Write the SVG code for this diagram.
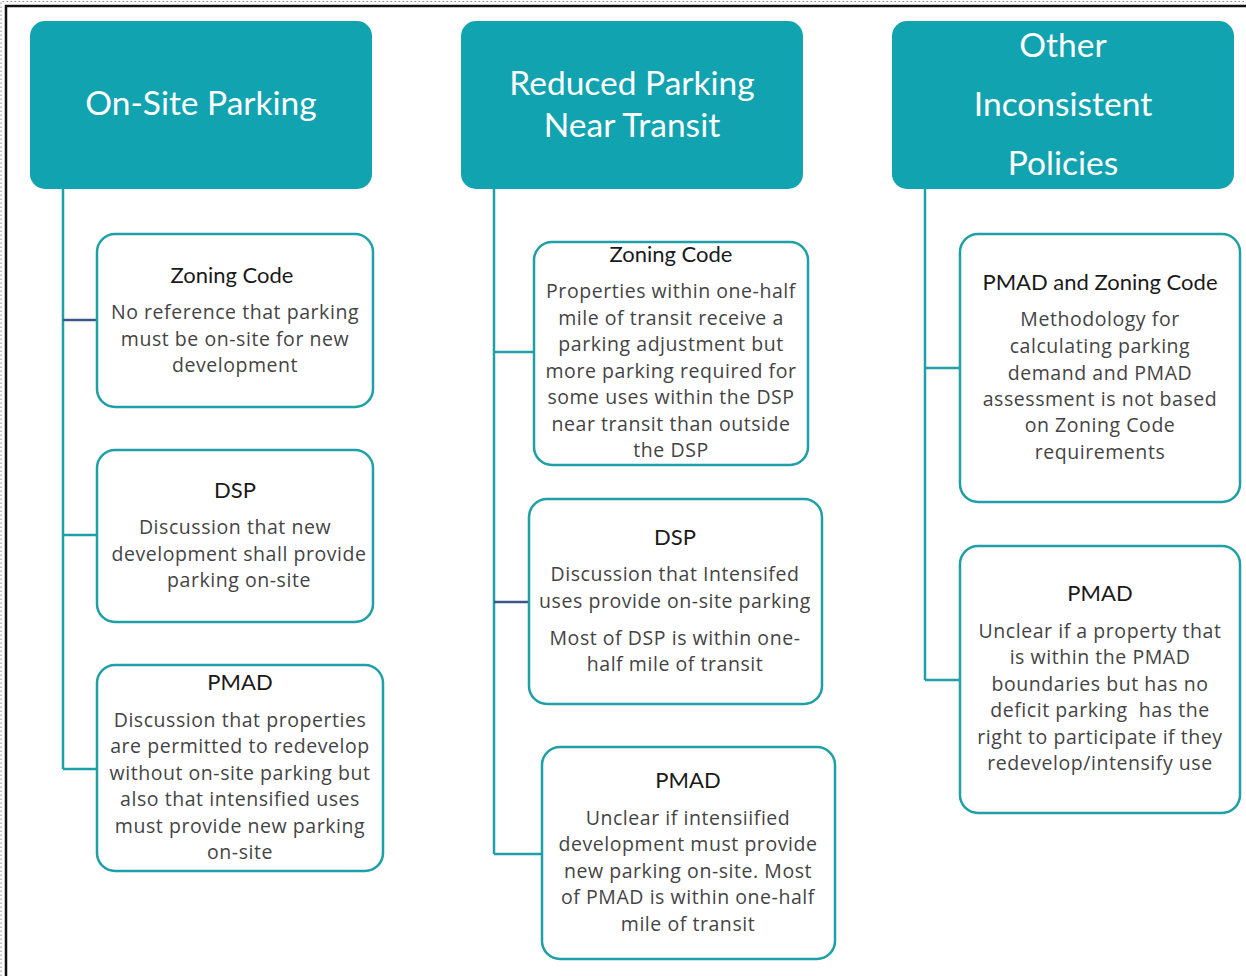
<svg xmlns="http://www.w3.org/2000/svg" width="1246" height="976" viewBox="0 0 1246 976">
<style>
.hdr{fill:#12a3b0}
.ht{font-family:Lato,"Open Sans",sans-serif;font-size:33.5px;fill:#ffffff;text-anchor:middle}
.box{fill:#ffffff;stroke:#1fa0a6;stroke-width:2.5}
.tt{font-family:Lato,"Open Sans",sans-serif;font-size:22px;fill:#1a1a1a;text-anchor:middle}
.bt{font-family:"Open Sans","Noto Sans",sans-serif;font-size:19.5px;letter-spacing:0.55px;fill:#444444;text-anchor:middle}
.ln{stroke:#1fa0a6;stroke-width:2.5;fill:none}
.ld{stroke:#3d5785;stroke-width:2.5;fill:none}
</style>
<rect x="0" y="0" width="1246" height="976" fill="#ffffff"/>
<path d="M1 976V1.5H1246" fill="none" stroke="#888" stroke-width="1" stroke-dasharray="1.5 2.5"/>
<path d="M6 976V6H1246" fill="none" stroke="#111" stroke-width="2.5"/>
<g id="connectors">
<path class="ln" d="M63 189V769M63 535H97M63 769H97"/>
<path class="ld" d="M63 320H97"/>
<path class="ln" d="M494 189V854M494 352H534M494 854H542"/>
<path class="ld" d="M494 602H529"/>
<path class="ln" d="M925 189V680M925 368H960M925 680H960"/>
</g>
<g id="h1"><rect class="hdr" x="30" y="21" width="342" height="168" rx="15"/><text class="ht" x="201" y="115">On-Site Parking</text></g>
<g id="h2"><rect class="hdr" x="461" y="21" width="342" height="168" rx="15"/><text class="ht" x="632" y="95">Reduced Parking</text><text class="ht" x="632" y="137">Near Transit</text></g>
<g id="h3"><rect class="hdr" x="892" y="21" width="342" height="168" rx="15"/><text class="ht" x="1063" y="57">Other</text><text class="ht" x="1063" y="116">Inconsistent</text><text class="ht" x="1063" y="175">Policies</text></g>
<g id="c1a"><rect class="box" x="97" y="234" width="276" height="173" rx="18"/><text class="tt" x="232" y="283">Zoning Code</text><text class="bt" x="235" y="319">No reference that parking</text><text class="bt" x="235" y="346">must be on-site for new</text><text class="bt" x="235" y="372">development</text></g>
<g id="c1b"><rect class="box" x="97" y="450" width="276" height="172" rx="18"/><text class="tt" x="235" y="498">DSP</text><text class="bt" x="235" y="534">Discussion that new</text><text class="bt" x="239" y="561">development shall provide</text><text class="bt" x="239" y="587">parking on-site</text></g>
<g id="c1c"><rect class="box" x="97" y="665" width="286" height="206" rx="18"/><text class="tt" x="240" y="690">PMAD</text><text class="bt" x="240" y="727">Discussion that properties</text><text class="bt" x="240" y="753">are permitted to redevelop</text><text class="bt" x="240" y="780">without on-site parking but</text><text class="bt" x="240" y="806">also that intensified uses</text><text class="bt" x="240" y="833">must provide new parking</text><text class="bt" x="240" y="859">on-site</text></g>
<g id="c2a"><rect class="box" x="534" y="242" width="274" height="223" rx="18"/><text class="tt" x="671" y="262">Zoning Code</text><text class="bt" x="671" y="298">Properties within one-half</text><text class="bt" x="671" y="325">mile of transit receive a</text><text class="bt" x="671" y="351">parking adjustment but</text><text class="bt" x="671" y="378">more parking required for</text><text class="bt" x="671" y="404">some uses within the DSP</text><text class="bt" x="671" y="431">near transit than outside</text><text class="bt" x="671" y="457">the DSP</text></g>
<g id="c2b"><rect class="box" x="529" y="499" width="293" height="205" rx="18"/><text class="tt" x="675" y="545">DSP</text><text class="bt" x="675" y="581">Discussion that Intensifed</text><text class="bt" x="675" y="608">uses provide on-site parking</text><text class="bt" x="675" y="645">Most of DSP is within one-</text><text class="bt" x="675" y="671">half mile of transit</text></g>
<g id="c2c"><rect class="box" x="542" y="747" width="293" height="212" rx="18"/><text class="tt" x="688" y="788">PMAD</text><text class="bt" x="688" y="825">Unclear if intensiified</text><text class="bt" x="688" y="851">development must provide</text><text class="bt" x="688" y="878">new parking on-site. Most</text><text class="bt" x="688" y="904">of PMAD is within one-half</text><text class="bt" x="688" y="931">mile of transit</text></g>
<g id="c3a"><rect class="box" x="960" y="234" width="280" height="268" rx="18"/><text class="tt" x="1100" y="290">PMAD and Zoning Code</text><text class="bt" x="1100" y="326">Methodology for</text><text class="bt" x="1100" y="353">calculating parking</text><text class="bt" x="1100" y="380">demand and PMAD</text><text class="bt" x="1100" y="406">assessment is not based</text><text class="bt" x="1100" y="432">on Zoning Code</text><text class="bt" x="1100" y="459">requirements</text></g>
<g id="c3b"><rect class="box" x="960" y="546" width="280" height="267" rx="18"/><text class="tt" x="1100" y="601">PMAD</text><text class="bt" x="1100" y="638">Unclear if a property that</text><text class="bt" x="1100" y="664">is within the PMAD</text><text class="bt" x="1100" y="691">boundaries but has no</text><text class="bt" x="1100" y="717">deficit parking&#160; has the</text><text class="bt" x="1100" y="744">right to participate if they</text><text class="bt" x="1100" y="770">redevelop/intensify use</text></g>
</svg>
